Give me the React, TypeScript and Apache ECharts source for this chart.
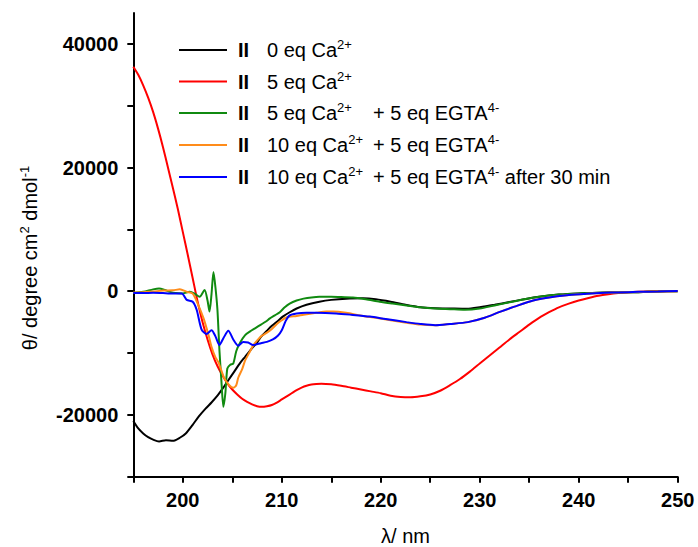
import React, { useEffect, useRef } from "react";
import * as echarts from "echarts";

const FONT = "'Liberation Sans', Arial, Helvetica, sans-serif";

// wavelength (nm), molar ellipticity
const ca0: [number, number][] = [
  [195, -21000], [195.5, -22200], [196, -23000], [196.5, -23600], [197, -24000], [197.6, -24300],
  [198.3, -24100], [199, -24200], [199.7, -23700], [200.3, -23000], [201, -21600], [201.6, -20300],
  [202.3, -19000], [202.9, -18000], [203.5, -16900], [204, -15800], [204.6, -14400], [205.2, -13000],
  [205.8, -11600], [206.3, -10600], [206.9, -9400], [207.5, -8300], [207.9, -7400], [208.5, -6400],
  [209, -5600], [209.6, -4800], [210.1, -4100], [210.8, -3400], [211.5, -2800], [212.5, -2200],
  [213.8, -1700], [215, -1400], [216.5, -1200], [218.2, -1150], [219.5, -1300], [221, -1700],
  [222.5, -2200], [224, -2600], [225.5, -2750], [227, -2800], [228.7, -2850], [230, -2600],
  [231.5, -2200], [233, -1750], [234.5, -1300], [236, -900], [238, -550], [240, -350],
  [242, -250], [244, -200], [246, -150], [248, -50], [250, 0],
];

const ca5: [number, number][] = [
  [195, 36300], [195.5, 35000], [196, 33300], [196.5, 31300], [197, 29000], [197.5, 26300],
  [198, 23300], [198.5, 20000], [199, 16700], [199.5, 13300], [200, 9600], [200.5, 5900],
  [201, 2100], [201.5, -1700], [202, -5000], [202.5, -7800], [203, -10200], [203.5, -12100],
  [204, -13600], [204.5, -14900], [205, -15900], [205.5, -16700], [206, -17400], [206.5, -17900],
  [207, -18300], [207.5, -18600], [208, -18700], [208.5, -18600], [209, -18400], [209.5, -18000],
  [210, -17500], [210.5, -17000], [211, -16500], [211.5, -16000], [212, -15600], [212.5, -15300],
  [213, -15100], [213.5, -15000], [214, -14950], [215, -15050], [216, -15300], [217, -15600],
  [218, -15900], [219, -16200], [220, -16500], [221, -16900], [222, -17100], [223, -17150],
  [224, -17000], [225, -16700], [226, -16100], [227, -15200], [228, -14200], [229, -13000],
  [230, -11700], [231, -10400], [232, -9100], [233, -7800], [234, -6600], [235, -5400],
  [236, -4300], [237, -3400], [238, -2600], [239, -2000], [240, -1500], [241, -1100],
  [242, -750], [243, -500], [244, -300], [245, -150], [246, -80], [248, 0], [250, 50],
];

const ca5Egta5: [number, number][] = [
  [195, -300], [196, -100], [197, 300], [197.6, 450], [198.2, 200], [198.7, -100],
  [199.3, -300], [200, -350], [200.7, -100], [201.2, -400], [201.7, -900], [202.2, 200],
  [202.5, -1500], [202.7, -3300], [202.9, -500], [203.1, 3100], [203.3, 600], [203.5, -3000],
  [203.7, -9500], [203.9, -14500], [204.1, -18700], [204.3, -16500], [204.5, -12500], [204.8, -11900],
  [205.1, -11700], [205.4, -9700], [205.8, -8300], [206.3, -7100], [206.8, -6500], [207.3, -6000],
  [207.9, -5400], [208.4, -4900], [208.8, -4400], [209.3, -3900], [209.8, -3400], [210.3, -2600],
  [210.8, -2000], [211.5, -1500], [212.2, -1200], [213, -1000], [213.8, -900], [215, -900],
  [216, -950], [217.2, -1000], [218.5, -1300], [219.9, -1700], [221.2, -2000], [222.6, -2300],
  [224, -2600], [225.5, -2800], [227, -2900], [228.5, -3000], [230, -2800], [231.5, -2300],
  [233, -1800], [234.5, -1300], [236, -900], [238, -550], [240, -350], [242, -250],
  [244, -200], [246, -150], [248, -50], [250, 0],
];

const ca10Egta5: [number, number][] = [
  [195, -200], [196, -150], [197, -50], [198, 100], [199, 150], [199.7, 300],
  [200.4, -100], [201, -400], [201.5, -2000], [202.1, -4400], [202.6, -7100], [202.9, -9000],
  [203.3, -10700], [203.6, -11500], [204.2, -14100], [204.7, -15200], [205.1, -15600], [205.4, -15200],
  [205.6, -14000], [206, -12600], [206.3, -11200], [206.7, -10000], [207.1, -8800], [207.5, -8000],
  [207.9, -7300], [208.5, -6700], [209, -6100], [209.5, -5300], [210, -4700], [210.5, -4200],
  [211.5, -4000], [212.2, -3800], [213.5, -3500], [214.5, -3300], [215.2, -3300], [216.5, -3500],
  [218.2, -4000], [219.5, -4300], [221, -4700], [222.6, -5100], [224, -5400], [225.5, -5500],
  [227, -5300], [228.8, -5000], [230.5, -4300], [232.1, -3300], [233.5, -2500], [235.4, -1500],
  [237, -1000], [238.8, -650], [240.5, -450], [242.2, -270], [244, -200], [246, -120],
  [248, -50], [250, 0],
];

const ca10Egta5After30: [number, number][] = [
  [195, -300], [196, -300], [197, -250], [198, -300], [198.7, -370], [199.9, -370],
  [200.4, -1400], [201, -1700], [201.4, -3000], [201.9, -6200], [202.4, -6900], [202.9, -6300],
  [203.3, -7300], [203.7, -8700], [204.1, -7600], [204.6, -6400], [205.1, -7800], [205.6, -8800],
  [206.1, -8200], [206.6, -8300], [207.1, -8700], [207.9, -8400], [208.5, -8200], [209.1, -7800],
  [209.6, -7200], [210, -6300], [210.4, -4800], [210.8, -3900], [211.5, -3600], [212.5, -3500],
  [213.5, -3500], [215.5, -3600], [217, -3800], [218.9, -4100], [220.5, -4500], [222.6, -5000],
  [224, -5300], [225.5, -5500], [227, -5300], [228.8, -5000], [230.5, -4300], [232.1, -3300],
  [233.5, -2500], [235.4, -1500], [237, -1000], [238.8, -650], [240.5, -450], [242.2, -270],
  [244, -200], [246, -100], [248, -50], [250, 50],
];

const seriesNames = [
  "II 0 eq Ca2+",
  "II 5 eq Ca2+",
  "II 5 eq Ca2+ + 5 eq EGTA4-",
  "II 10 eq Ca2+ + 5 eq EGTA4-",
  "II 10 eq Ca2+ + 5 eq EGTA4- after 30 min",
];
const seriesData = [ca0, ca5, ca5Egta5, ca10Egta5, ca10Egta5After30];
const seriesColors = ["#000000", "#ff0000", "#108a10", "#ff8c1a", "#0000ff"];

// legend text parts
const legendCa = ["0 eq Ca", "5 eq Ca", "5 eq Ca", "10 eq Ca", "10 eq Ca"];
const legendEgta = ["", "", "{a|+ 5 eq EGTA}{s|4-}", "{a|+ 5 eq EGTA}{s|4-}", "{a|+ 5 eq EGTA}{s|4-}{a| after 30 min}"];

const xTickValues = [195, 200, 205, 210, 215, 220, 225, 230, 235, 240, 245, 250];
const xLabelValues = [200, 210, 220, 230, 240, 250];
const yTickValues = [-30000, -20000, -10000, 0, 10000, 20000, 30000, 40000];
const yLabelValues = [-20000, 0, 20000, 40000];

const richBase = {
  a: { fontSize: 20, fontFamily: FONT, fill: "#000" },
  s: { fontSize: 13, fontFamily: FONT, fill: "#000", padding: [0, 0, 11, 0] },
};

export default function App() {
  const ref = useRef<HTMLDivElement>(null);
  useEffect(() => {
    if (!ref.current) return;
    const chart = echarts.init(ref.current, null, { renderer: "svg" });
    const rowY = [50, 81.5, 113, 145, 177];
    const graphics: any[] = [];
    seriesNames.forEach((_, i) => {
      graphics.push({
        type: "line",
        shape: { x1: 179, y1: rowY[i], x2: 227, y2: rowY[i] },
        style: { stroke: seriesColors[i], lineWidth: 2 },
      });
      graphics.push({
        type: "text",
        x: 238,
        y: rowY[i],
        style: { text: "II", fontSize: 20, fontWeight: "bold", fontFamily: FONT, fill: "#000", verticalAlign: "middle" },
      });
      graphics.push({
        type: "text",
        x: 267,
        y: rowY[i],
        style: { text: `{a|${legendCa[i]}}{s|2+}`, rich: richBase, verticalAlign: "middle" },
      });
      if (legendEgta[i]) {
        graphics.push({
          type: "text",
          x: 373,
          y: rowY[i],
          style: { text: legendEgta[i], rich: richBase, verticalAlign: "middle" },
        });
      }
    });
    graphics.push({
      type: "text",
      x: 30,
      y: 258,
      rotation: Math.PI / 2,
      style: {
        text: "{a|θ/ degree cm}{s|2}{a| dmol}{s|-1}",
        rich: richBase,
        align: "center",
        verticalAlign: "middle",
      },
    });
    graphics.push({
      type: "text",
      x: 405.5,
      y: 536,
      style: {
        text: "λ/ nm",
        fontSize: 20,
        fontFamily: FONT,
        fill: "#000",
        align: "center",
        verticalAlign: "middle",
      },
    });

    chart.setOption({
      animation: false,
      backgroundColor: "#ffffff",
      grid: { left: 133.3, right: 20.3, top: 13, bottom: 70.3, containLabel: false },
      xAxis: {
        type: "value",
        min: 195,
        max: 250,
        interval: 5,
        axisLine: { show: true, onZero: false, lineStyle: { color: "#000", width: 2 } },
        axisTick: { show: true, length: 6, lineStyle: { color: "#000", width: 2 }, customValues: xTickValues },
        splitLine: { show: false },
        axisLabel: {
          customValues: xLabelValues,
          formatter: (v: number) => (v % 10 === 0 && v >= 200 ? String(v) : ""),
          fontSize: 20,
          fontWeight: "bold",
          fontFamily: FONT,
          color: "#000",
          margin: 13,
        },
      },
      yAxis: {
        type: "value",
        min: -30000,
        max: 45000,
        interval: 10000,
        axisLine: { show: true, onZero: false, lineStyle: { color: "#000", width: 2 } },
        axisTick: { show: true, length: 6, lineStyle: { color: "#000", width: 2 }, customValues: yTickValues },
        splitLine: { show: false },
        axisLabel: {
          customValues: yLabelValues,
          formatter: (v: number) => (v % 20000 === 0 && v > -30000 && v <= 40000 ? String(v) : ""),
          fontSize: 20,
          fontWeight: "bold",
          fontFamily: FONT,
          color: "#000",
          margin: 15,
        },
      },
      series: seriesNames.map((name, i) => ({
        name,
        type: "line",
        data: seriesData[i],
        showSymbol: false,
        symbol: "none",
        smooth: 0.25,
        lineStyle: { color: seriesColors[i], width: 2 },
        itemStyle: { color: seriesColors[i] },
        z: 2 + i,
      })),
      graphic: graphics,
    });
    return () => chart.dispose();
  }, []);
  return (
    <div
      ref={ref}
      style={{ position: "fixed", left: 0, top: 0, width: 698, height: 547, background: "#fff" }}
    />
  );
}
